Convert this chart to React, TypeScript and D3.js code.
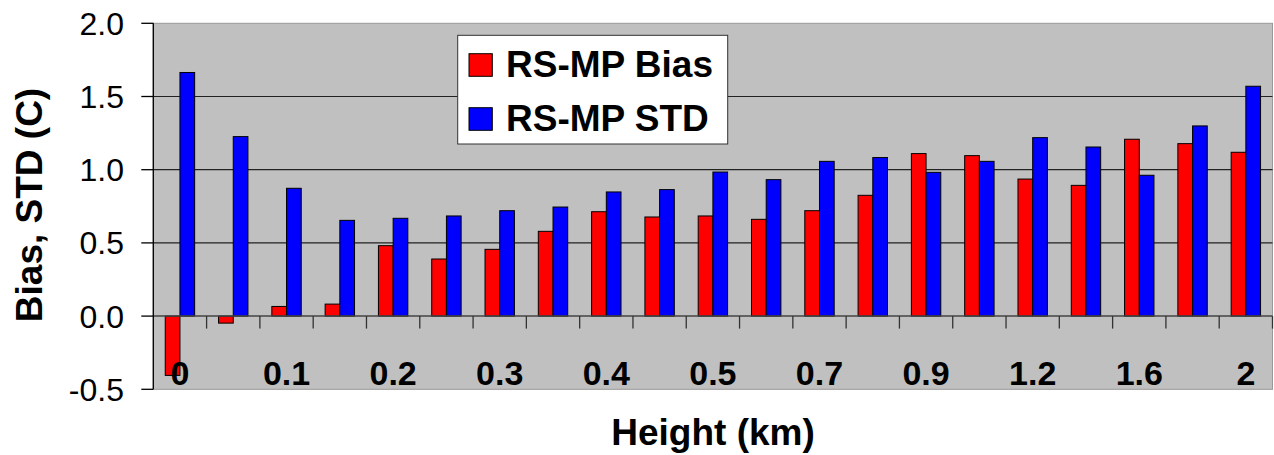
import React from "react";
import * as d3 from "d3";

const categories = ["0", "0.05", "0.1", "0.15", "0.2", "0.25", "0.3", "0.35", "0.4", "0.45", "0.5", "0.6", "0.7", "0.8", "0.9", "1.0", "1.2", "1.4", "1.6", "1.8", "2"];
const tickLabels = ["0", "", "0.1", "", "0.2", "", "0.3", "", "0.4", "", "0.5", "", "0.7", "", "0.9", "", "1.2", "", "1.6", "", "2"];
const biasValues = [-0.405, -0.048, 0.066, 0.082, 0.481, 0.39, 0.456, 0.579, 0.713, 0.677, 0.684, 0.661, 0.72, 0.825, 1.11, 1.096, 0.936, 0.893, 1.208, 1.178, 1.119];
const stdValues = [1.664, 1.226, 0.873, 0.654, 0.668, 0.684, 0.72, 0.745, 0.848, 0.864, 0.984, 0.932, 1.057, 1.083, 0.982, 1.057, 1.219, 1.155, 0.962, 1.299, 1.57];
const yTicks = [-0.5, 0, 0.5, 1.0, 1.5, 2.0];
const seriesNames = ["RS-MP Bias", "RS-MP STD"];
const seriesColors = ["#FF0000", "#0000FF"];

export default function App() {
  const W = 1274, H = 455;
  const left = 153.3, right = 1272.5, top = 23.3, bottom = 389.3;
  const y = d3.scaleLinear().domain([-0.5, 2]).range([bottom, top]);
  const x = d3.scaleBand<string>().domain(categories).range([left, right]).paddingInner(0).paddingOuter(0);
  const bw = x.bandwidth();
  const groupW = 29.4;
  const sub = d3.scaleBand<string>().domain(["bias", "std"]).range([(bw - groupW) / 2, (bw + groupW) / 2]);
  const y0 = y(0);
  const font = "'Liberation Sans', Arial, sans-serif";

  const bar = (v: number, cx: number, w: number, fill: string, key: string) => {
    const y1 = Math.min(y(v), y0);
    const h = Math.abs(y(v) - y0);
    return <rect key={key} x={cx} y={y1} width={w} height={h} fill={fill} stroke="#000" strokeWidth={1} />;
  };

  return (
    <svg width={W} height={H} style={{ position: "absolute", left: 0, top: 0, background: "#fff" }} fontFamily={font}>
      <rect x={left} y={top} width={right - left} height={bottom - top} fill="#C0C0C0" stroke="#999" strokeWidth={1} />
      {yTicks.filter(t => t > 0 && t < 2).map(t => (
        <line key={"g" + t} x1={left} x2={right} y1={y(t)} y2={y(t)} stroke="#222" strokeWidth={1.2} />
      ))}
      {categories.map((c, i) => {
        const gx = x(c)!;
        return (
          <g key={c}>
            {bar(biasValues[i], gx + sub("bias")!, sub.bandwidth(), seriesColors[0], "b")}
            {bar(stdValues[i], gx + sub("std")!, sub.bandwidth(), seriesColors[1], "s")}
          </g>
        );
      })}
      {/* zero axis */}
      <line x1={left} x2={right} y1={y0} y2={y0} stroke="#444" strokeWidth={1.5} />
      {categories.map((c, i) => i === 0 ? null : (
        <line key={"t" + c} x1={x(c)!} x2={x(c)!} y1={y0} y2={y0 + 12.5} stroke="#333" strokeWidth={1.3} />
      ))}
      <line x1={right} x2={right} y1={y0} y2={y0 + 12.5} stroke="#333" strokeWidth={1.3} />
      {/* left axis */}
      <line x1={left} x2={left} y1={top} y2={bottom} stroke="#000" strokeWidth={1.3} />
      {yTicks.map(t => (
        <g key={"y" + t}>
          <line x1={left - 12} x2={left} y1={y(t)} y2={y(t)} stroke="#000" strokeWidth={1.3} />
          <text x={124} y={y(t)} dy="0.36em" textAnchor="end" fontSize={32} fill="#000">{t.toFixed(1)}</text>
        </g>
      ))}
      {categories.map((c, i) => tickLabels[i] ? (
        <text key={"l" + c} x={x(c)! + bw / 2} y={385} textAnchor="middle" fontSize={34} fontWeight="bold" fill="#000">{tickLabels[i]}</text>
      ) : null)}
      {/* legend */}
      <rect x={457.7} y={35.3} width={270} height={108.7} fill="#fff" stroke="#333" strokeWidth={1} />
      {seriesNames.map((n, i) => (
        <g key={n}>
          <rect x={469} y={53.7 + i * 54} width={23.3} height={22.6} fill={seriesColors[i]} stroke="#000" strokeWidth={1} />
          <text x={506} y={76.7 + i * 54} fontSize={37} fontWeight="bold" fill="#000">{n}</text>
        </g>
      ))}
      <text x={713} y={445} textAnchor="middle" fontSize={37} fontWeight="bold" fill="#000">Height (km)</text>
      <text transform="translate(42,205) rotate(-90)" textAnchor="middle" fontSize={37} fontWeight="bold" fill="#000">Bias, STD (C)</text>
    </svg>
  );
}
